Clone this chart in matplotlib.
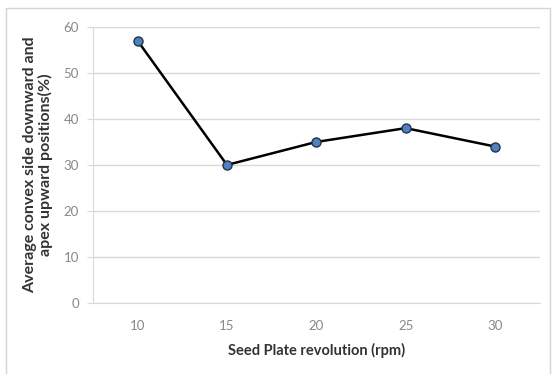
import matplotlib
matplotlib.use('Agg')
import matplotlib.pyplot as plt
from matplotlib.patches import Rectangle

# seed plate speed vs. average share of seeds in the two positions
rpm = ['10', '15', '20', '25', '30']
avg_positions = [57, 30, 35, 38, 34]

plt.rcParams['font.family'] = ['Lato', 'DejaVu Sans']

fig = plt.figure(figsize=(5.53, 3.74), dpi=100)
ax = fig.add_axes([0.168, 0.190, 0.808, 0.738])

# outer chart frame
fig.patches.append(Rectangle((6 / 553, -0.05), 544 / 553, 1.05 - 8 / 374,
                             transform=fig.transFigure, fill=False,
                             edgecolor='#d4d4d4', linewidth=1.0))

x = range(len(rpm))
ax.plot(x, avg_positions, color='black', linewidth=1.8, marker='o',
        markersize=6.5, markerfacecolor='#4f81bd', markeredgecolor='#1f3350',
        markeredgewidth=1.0, zorder=3)

ax.set_xlim(-0.5, len(rpm) - 0.5)
ax.set_ylim(0, 60)
ax.set_yticks(range(0, 61, 10))
ax.set_xticks(list(x))
ax.set_xticklabels(rpm)

ax.grid(axis='y', color='#d9d9d9', linewidth=1.0)
ax.set_axisbelow(True)
for side in ['top', 'right']:
    ax.spines[side].set_visible(False)
ax.spines['left'].set_color('#d9d9d9')
ax.spines['bottom'].set_color('#d9d9d9')
ax.tick_params(axis='both', colors='#888888', labelsize=9.5, length=0)
ax.tick_params(axis='x', pad=12)
ax.tick_params(axis='y', length=4, color='#d9d9d9', pad=6)

ax.set_xlabel('Seed Plate revolution (rpm)', fontsize=10.5, fontweight='bold',
              color='#333333', labelpad=8)
ax.set_ylabel('Average convex side downward and\napex upward positions(%)',
              fontsize=11.5, fontweight='bold', color='#333333', labelpad=8,
              linespacing=1.05)

fig.savefig('out.png', dpi=100)
